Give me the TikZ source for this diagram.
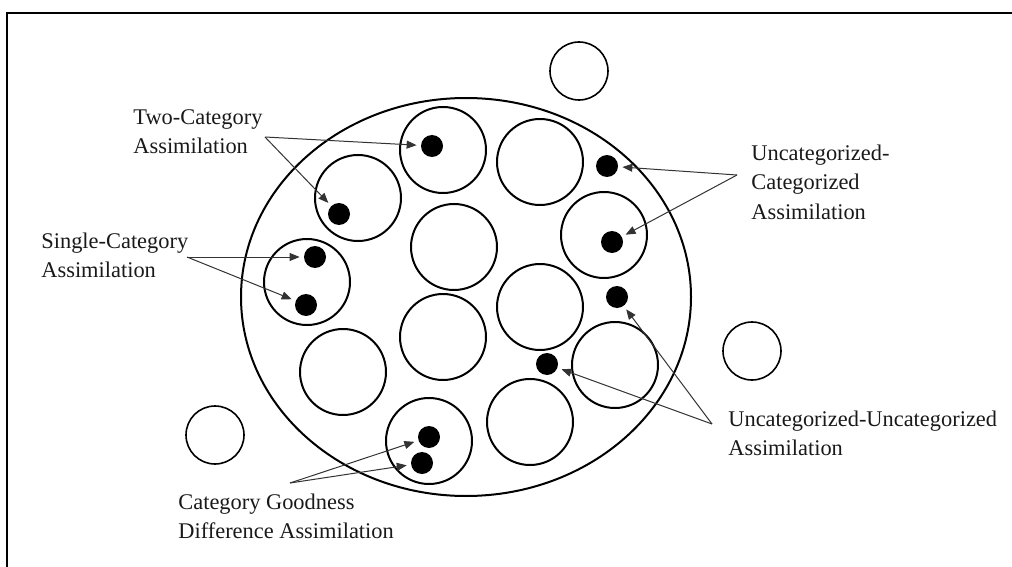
\documentclass[tikz,border=0pt]{standalone}
\usepackage{fontspec}
\setmainfont{Liberation Serif}
\usetikzlibrary{arrows.meta,shapes.geometric}
\definecolor{txtgray}{rgb}{0.1,0.1,0.1}

\tikzset{
  catcircle/.style={circle,draw=black,line width=1pt,minimum size=43pt,inner sep=0pt},
  lonecircle/.style={circle,draw=black,line width=0.8pt,minimum size=29pt,inner sep=0pt},
  sounddot/.style={circle,fill=black,minimum size=11pt,inner sep=0pt},
  caption/.style={align=left,anchor=base west,inner sep=0pt,text=txtgray,font=\fontsize{11.2}{14.5}\selectfont},
  pointer/.style={draw=black!80,line width=0.5pt,-{Triangle[length=5pt,width=4pt]},shorten >=2pt}
}

\begin{document}
\begin{tikzpicture}[x=0.5pt,y=-0.5pt]
			\useasboundingbox (0,0) rectangle (1012,567);
			\draw [color=black,line width=1pt] (1012,13) -- (7,13) -- (7,567);
			\node [ellipse,draw=black,line width=1pt,minimum width=225pt,minimum height=199pt,inner sep=0pt] (space) at (466,297) {};
			\node [lonecircle] (outA) at (579,71) {};
			\node [lonecircle] (outB) at (752,351) {};
			\node [lonecircle] (outC) at (215,435) {};
			\node [catcircle] (c1) at (443,150) {};
			\node [catcircle] (c2) at (540,162) {};
			\node [catcircle] (c3) at (358,198) {};
			\node [catcircle] (c4) at (454,247) {};
			\node [catcircle] (c5) at (604,235) {};
			\node [catcircle] (c6) at (307,282) {};
			\node [catcircle] (c7) at (540,307) {};
			\node [catcircle] (c8) at (443,337) {};
			\node [catcircle] (c9) at (343,372) {};
			\node [catcircle] (c10) at (615,365) {};
			\node [catcircle] (c11) at (530,422) {};
			\node [catcircle] (c12) at (429,441) {};
			\node [sounddot] (twoA) at (432,146) {};
			\node [sounddot] (twoB) at (339,214) {};
			\node [sounddot] (singleA) at (315,257) {};
			\node [sounddot] (singleB) at (306,305) {};
			\node [sounddot] (ucA) at (607,166) {};
			\node [sounddot] (ucB) at (612,242) {};
			\node [sounddot] (uuA) at (617,297) {};
			\node [sounddot] (uuB) at (547,364) {};
			\node [sounddot] (goodA) at (429,437) {};
			\node [sounddot] (goodB) at (422,463) {};
			\node [caption] (twolbl) at (133,154) {Two-Category\\Assimilation};
			\node [caption] (singlelbl) at (41,277) {Single-Category\\Assimilation};
			\node [caption] (uclbl) at (751,219) {Uncategorized-\\Categorized\\Assimilation};
			\node [caption] (uulbl) at (728,455) {Uncategorized-Uncategorized\\Assimilation};
			\node [caption] (goodlbl) at (178,538) {Category Goodness\\Difference Assimilation};
			\coordinate (twofrom) at (265,137);
			\coordinate (singlefrom) at (187,257);
			\coordinate (ucfrom) at (737,175);
			\coordinate (uufrom) at (712,424);
			\coordinate (goodfrom) at (290,483);
			\draw [pointer] (twofrom) -- (twoA);
			\draw [pointer] (twofrom) -- (twoB);
			\draw [pointer] (singlefrom) -- (singleA);
			\draw [pointer] (singlefrom) -- (singleB);
			\draw [pointer] (ucfrom) -- (ucA);
			\draw [pointer] (ucfrom) -- (ucB);
			\draw [pointer] (uufrom) -- (uuA);
			\draw [pointer] (uufrom) -- (uuB);
			\draw [pointer] (goodfrom) -- (goodA);
			\draw [pointer] (goodfrom) -- (goodB);
\end{tikzpicture}
\end{document}
